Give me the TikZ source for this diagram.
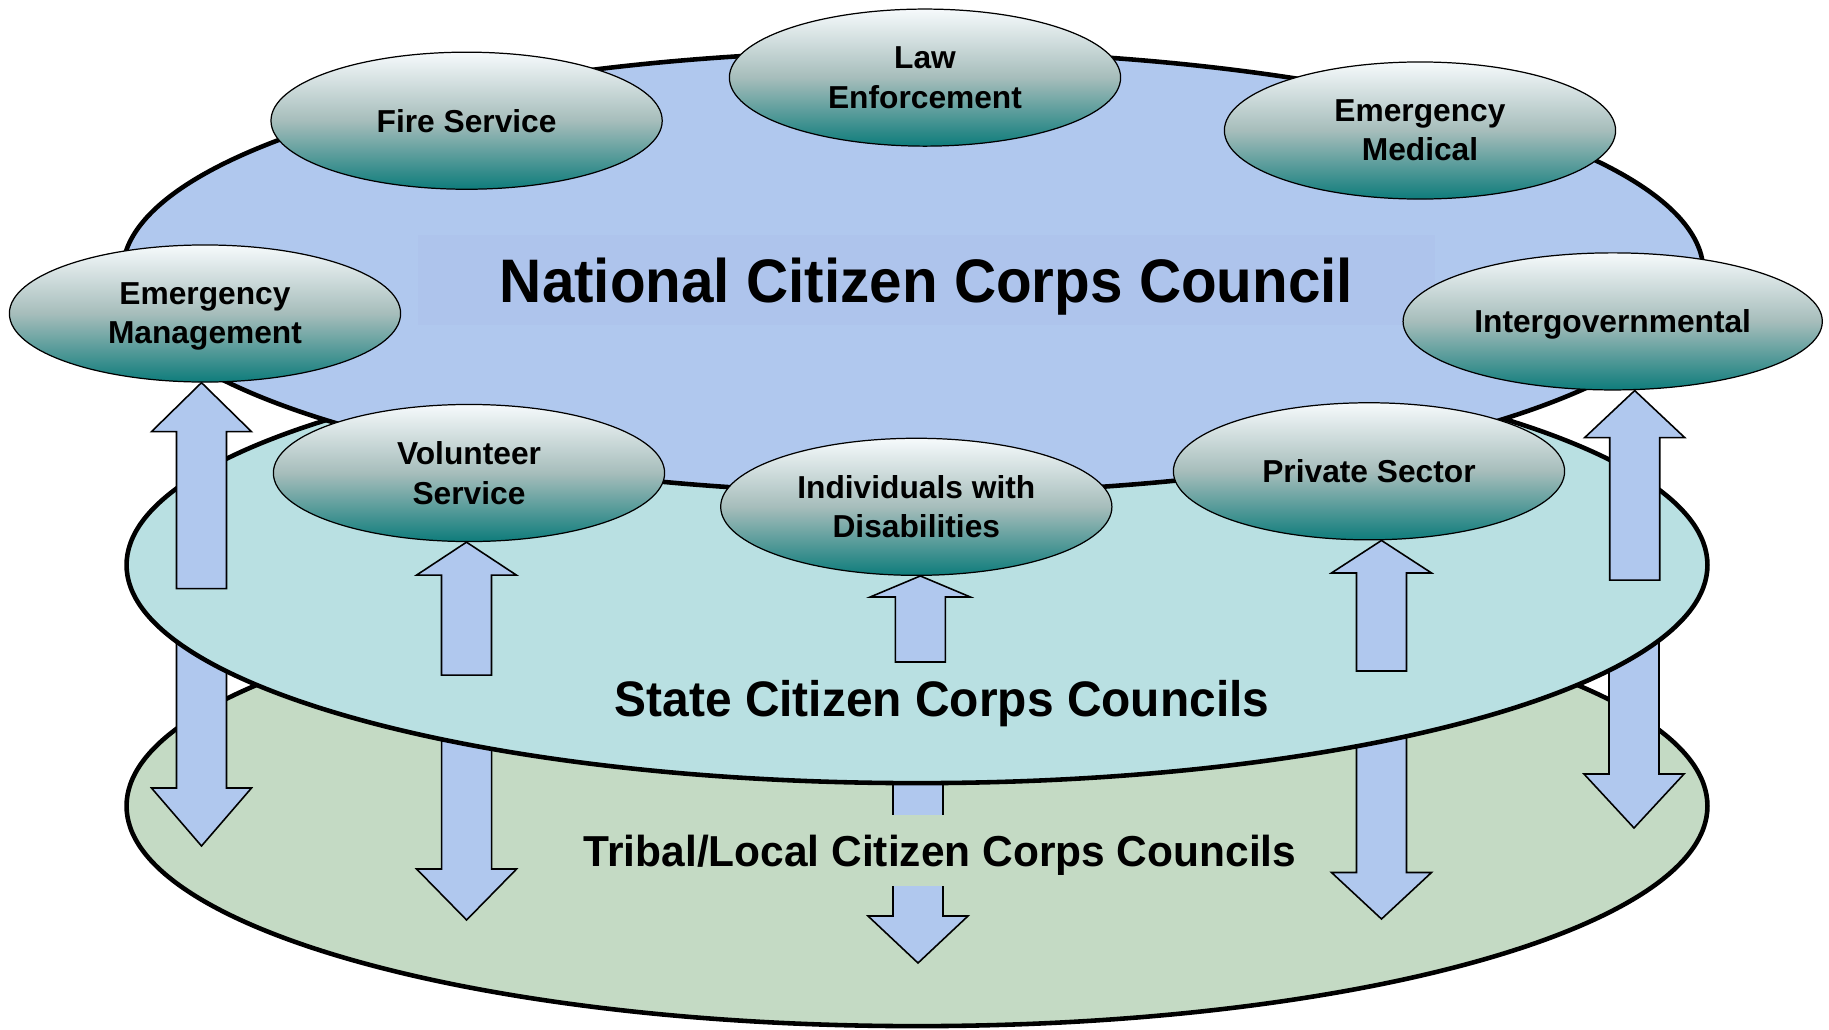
\documentclass[tikz,border=0pt]{standalone}
\usepackage{fontspec}
\setmainfont{Liberation Sans}
\newfontfamily\fnat[FakeStretch=0.95]{Liberation Sans}
\newfontfamily\fsta[FakeStretch=0.96]{Liberation Sans}
\newfontfamily\ftri[FakeStretch=0.98]{Liberation Sans}
\usetikzlibrary{shapes.geometric,calc}
\definecolor{natfill}{HTML}{B0C8EE}
\definecolor{natrect}{HTML}{AEC4EC}
\definecolor{stafill}{HTML}{B9E0E2}
\definecolor{trifill}{HTML}{C4DAC4}
\definecolor{arrfill}{HTML}{B0C8EE}
\definecolor{gtop}{HTML}{F6FAFC}
\definecolor{gmid}{HTML}{A6BDBB}
\definecolor{gbot}{HTML}{0E7C7B}
\pgfdeclarelayer{lone}
\pgfdeclarelayer{ltwo}
\pgfdeclarelayer{lthree}
\pgfdeclarelayer{ltop}
\pgfsetlayers{lone,ltwo,lthree,main,ltop}
\tikzset{
  layer/.style={ellipse, draw=black, line width=1.3pt, minimum width=15.8cm, inner sep=0pt},
  org/.style={ellipse, draw=black, line width=0.35pt, top color=gtop, bottom color=gbot,
    middle color=gmid, minimum width=3.91cm, minimum height=1.37cm, inner sep=0pt,
    align=center, text depth=0pt, font=\bfseries\fontsize{9.02}{11.1}\selectfont},
  blk/.style={draw=black, line width=0.45pt, fill=arrfill, line join=miter},
}
\newcommand{\upblk}[3]{\draw[blk] #1 -- ++(50,#2) -- ++(-25,0) -- ++(0,#3) -- ++(-50,0) -- ++(0,-#3) -- ++(-25,0) -- cycle;}
\newcommand{\downblk}[3]{\draw[blk] #1 -- ++(50,-#2) -- ++(-25,0) -- ++(0,-#3) -- ++(-50,0) -- ++(0,#3) -- ++(-25,0) -- cycle;}
\begin{document}
\begin{tikzpicture}[x=0.01cm, y=-0.01cm]
\begin{pgfonlayer}{ltop}
  \node[org] (fire) at (466.6,120.7) {Fire Service};
  \node[org] (law) at (925,77.6) {Law\\Enforcement};
  \node[org] (emed) at (1420,130.5) {Emergency\\Medical};
  \node[org] (emgmt) at (205,313.5) {Emergency\\Management};
  \node[org, minimum width=4.19cm] (igov) at (1612.7,321.4) {Intergovernmental};
  \node[org] (vol) at (469,473) {Volunteer\\Service};
  \node[org] (ind) at (916.3,506.8) {Individuals with\\Disabilities};
  \node[org] (priv) at (1369,471.3) {Private Sector};
\end{pgfonlayer}
\begin{pgfonlayer}{lone}
  \fill[white] (0,0) rectangle (1829,1030);
  \useasboundingbox (0,0) rectangle (1829,1030);
  \node[layer, fill=trifill, minimum height=4.40cm] (tribal) at (917,806) {};
  \coordinate (d1) at (201.5,846);
  \coordinate (d2) at (466.6,920);
  \coordinate (d3) at (918,963);
  \coordinate (d4) at (1381.5,919);
  \coordinate (d5) at (1634,828);
  \downblk{(d1)}{58}{188}
  \downblk{(d2)}{51}{229}
  \downblk{(d3)}{47}{276}
  \downblk{(d4)}{46.5}{232.5}
  \downblk{(d5)}{54}{174}
  \node[fill=trifill, inner xsep=3pt, inner ysep=5.69pt, text height=8.82pt, text depth=0pt,
    font=\ftri\bfseries\fontsize{12.32}{15}\selectfont] (trilbl) at (940,850.5)
    {Tribal/Local Citizen Corps Councils};
\end{pgfonlayer}
\begin{pgfonlayer}{ltwo}
  \node[layer, fill=stafill, minimum height=4.36cm] (state) at (917,565) {};
  \node[inner sep=0pt, text height=10.16pt, text depth=0pt,
    font=\fsta\bfseries\fontsize{14.19}{17}\selectfont] (stalbl) at (942,699)
    {State Citizen Corps Councils};
\end{pgfonlayer}
\begin{pgfonlayer}{lthree}
  \node[layer, fill=natfill, minimum height=4.42cm] (national) at (913,272) {};
  \node[fill=natrect, inner xsep=23.33pt, inner ysep=6.54pt, text height=12.52pt, text depth=0pt,
    font=\fnat\bfseries\fontsize{17.48}{21}\selectfont] (natlbl) at (926.5,280)
    {National Citizen Corps Council};
\end{pgfonlayer}
\upblk{($(emgmt.south)+(-3.5,0)$)}{49}{157}
\upblk{($(vol.south)+(-2.5,0)$)}{33}{100}
\upblk{($(ind.south)+(4,0)$)}{21}{65}
\upblk{($(priv.south)+(12.5,0)$)}{32.5}{98}
\upblk{($(igov.south)+(22,0)$)}{47}{142.5}
\end{tikzpicture}
\end{document}
